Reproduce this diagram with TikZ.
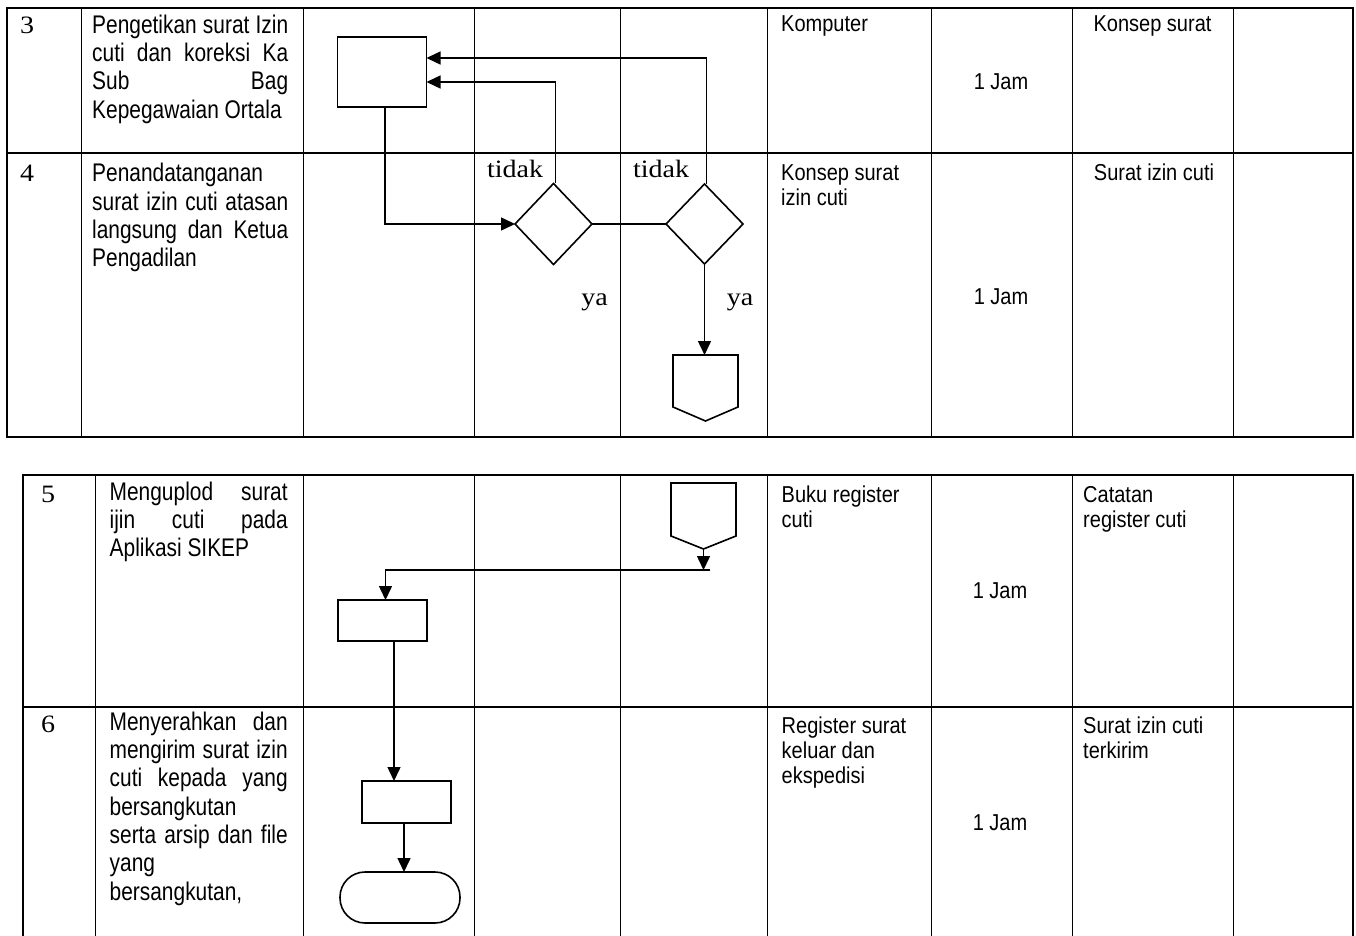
\documentclass[tikz,border=0pt]{standalone}
\usepackage{fontspec}
\setmainfont{Liberation Sans}
\newfontfamily\descfont[FakeStretch=0.82]{Liberation Sans}
\newfontfamily\cellfont[FakeStretch=0.87]{Liberation Sans}
\newfontfamily\numfont[FakeStretch=1.12]{Liberation Serif}
\usetikzlibrary{arrows.meta,shapes.geometric}
\tikzset{
  desc/.style={anchor=base west, inner sep=0pt, font=\descfont\fontsize{25.5}{28}\selectfont},
  cell/.style={anchor=base west, inner sep=0pt, font=\cellfont\fontsize{23}{25}\selectfont},
  serif/.style={anchor=base, inner sep=0pt, font=\numfont\fontsize{25}{28}\selectfont},
  proc/.style={draw, line width=1.6pt, inner sep=0pt, outer sep=0pt},
  dec/.style={draw, diamond, line width=1.6pt, inner sep=0pt, outer sep=0pt},
  holder/.style={inner sep=0pt, outer sep=0pt},
  flow/.style={line width=1.5pt},
  arr/.style={flow, -{Triangle[length=14pt,width=13pt]}},
  gridline/.style={line width=1pt},
  frameline/.style={line width=2pt},
  rowline/.style={line width=1.4pt}
}
\begin{document}
\begin{tikzpicture}[x=1pt,y=-1pt]
\useasboundingbox (0,0) rectangle (1356,936);

% ---------- top table ----------
\foreach \xx in {81,303,474,620,767,931,1072,1233}
  \draw[gridline] (\xx,8) -- (\xx,437);
\draw[rowline] (7,153) -- (1353,153);
\draw[frameline] (7,8) rectangle (1353,437);

% ---------- bottom table ----------
\foreach \xx in {95,303,474,620,767,931,1072,1233}
  \draw[gridline] (\xx,475) -- (\xx,936);
\draw[rowline] (23,707) -- (1353,707);
\draw[frameline] (23,936) -- (23,475) -- (1353,475) -- (1353,936);

% ---------- numbers ----------
\node[serif, anchor=base west] (n3) at (20,33.3) {3};
\node[serif, anchor=base west] (n4) at (20,182) {4};
\node[serif, anchor=base west] (n5) at (41,502) {5};
\node[serif, anchor=base west] (n6) at (41,732) {6};

% ---------- descriptions ----------
\node[desc] (d3a) at (92,33.3) {\makebox[196pt][s]{Pengetikan surat Izin}};
\node[desc] (d3b) at (92,61.6) {\makebox[196pt][s]{cuti dan koreksi Ka}};
\node[desc] (d3c) at (92,90) {\makebox[196pt][s]{Sub Bag}};
\node[desc] (d3d) at (92,118.3) {Kepegawaian Ortala};

\node[desc] (d4a) at (92,181.7) {Penandatanganan};
\node[desc] (d4b) at (92,210) {\makebox[196pt][s]{surat izin cuti atasan}};
\node[desc] (d4c) at (92,238.3) {\makebox[196pt][s]{langsung dan Ketua}};
\node[desc] (d4d) at (92,266.6) {Pengadilan};

\node[desc] (d5a) at (109.5,500) {\makebox[178pt][s]{Menguplod surat}};
\node[desc] (d5b) at (109.5,528.3) {\makebox[178pt][s]{ijin cuti pada}};
\node[desc] (d5c) at (109.5,556.6) {Aplikasi SIKEP};

\node[desc] (d6a) at (109.5,730) {\makebox[178pt][s]{Menyerahkan dan}};
\node[desc] (d6b) at (109.5,758.3) {\makebox[178pt][s]{mengirim surat izin}};
\node[desc] (d6c) at (109.5,786.6) {\makebox[178pt][s]{cuti kepada yang}};
\node[desc] (d6d) at (109.5,815) {bersangkutan};
\node[desc] (d6e) at (109.5,843.3) {\makebox[178pt][s]{serta arsip dan file}};
\node[desc] (d6f) at (109.5,871.6) {yang};
\node[desc] (d6g) at (109.5,900) {bersangkutan,};

% ---------- right columns ----------
\node[cell] (k3) at (781,31.5) {Komputer};
\node[cell, anchor=base] (w3) at (1001,90) {1 Jam};
\node[cell, anchor=base] (o3) at (1152.5,31.5) {Konsep surat};

\node[cell] (k4a) at (781,180) {Konsep surat};
\node[cell] (k4b) at (781,205) {izin cuti};
\node[cell, anchor=base] (w4) at (1001,304) {1 Jam};
\node[cell, anchor=base] (o4) at (1154,180) {Surat izin cuti};

\node[cell] (k5a) at (781.5,502) {Buku register};
\node[cell] (k5b) at (781.5,527) {cuti};
\node[cell, anchor=base] (w5) at (1000,598) {1 Jam};
\node[cell] (o5a) at (1083,502) {Catatan};
\node[cell] (o5b) at (1083,527) {register cuti};

\node[cell] (k6a) at (781.5,733) {Register surat};
\node[cell] (k6b) at (781.5,758) {keluar dan};
\node[cell] (k6c) at (781.5,783) {ekspedisi};
\node[cell, anchor=base] (w6) at (1000,830) {1 Jam};
\node[cell] (o6a) at (1083,733) {Surat izin cuti};
\node[cell] (o6b) at (1083,758) {terkirim};

% ---------- top flow ----------
\node[proc, minimum width=89pt, minimum height=70.5pt] (r1) at (382,72) {};
\node[dec, aspect=0.95, minimum width=77pt, minimum height=81pt] (dA) at (553.5,224) {};
\node[dec, aspect=0.96, minimum width=77pt, minimum height=80pt] (dB) at (704.5,224) {};
\node[holder, minimum width=65pt, minimum height=66pt] (off1) at (705.5,388) {};
\draw[proc] (off1.north west) -- (off1.north east) -- ([yshift=14pt]off1.south east)
  -- (off1.south) -- ([yshift=14pt]off1.south west) -- cycle;

\draw[arr] ([xshift=3pt]r1.south) |- (dA.west);
\draw[arr] ([xshift=2pt]dA.north) |- ([yshift=-10pt]r1.east);
\draw[arr] ([xshift=2pt]dB.north) |- ([yshift=14pt]r1.east);
\draw[flow] (dA.east) -- (dB.west);
\draw[arr] (dB.south) -- (dB.south |- off1.north);

\node[serif] (t1) at (515,178) {tidak};
\node[serif] (t2) at (661,178) {tidak};
\node[serif] (y1) at (594.5,305) {ya};
\node[serif] (y2) at (740,305) {ya};

% ---------- bottom flow ----------
\node[holder, minimum width=65pt, minimum height=66pt] (off2) at (703.5,516) {};
\draw[proc] (off2.north west) -- (off2.north east) -- ([yshift=13pt]off2.south east)
  -- (off2.south) -- ([yshift=13pt]off2.south west) -- cycle;
\coordinate (j) at (710,570);
\node[proc, minimum width=89pt, minimum height=41pt] (r2) at (382.5,620.5) {};
\node[proc, minimum width=89pt, minimum height=42pt] (r3) at (406.5,802) {};
\node[proc, rounded corners=25pt, minimum width=120pt, minimum height=51pt] (term) at (400,897.5) {};

\draw[arr] (off2.south) -- (off2.south |- j);
\draw[arr] (j) -| ([xshift=3pt]r2.north);
\draw[arr] ([xshift=11.5pt]r2.south) -- ([xshift=11.5pt]r2.south |- r3.north);
\draw[arr] ([xshift=-2.5pt]r3.south) -- ([xshift=-2.5pt]r3.south |- term.north);
\end{tikzpicture}
\end{document}
